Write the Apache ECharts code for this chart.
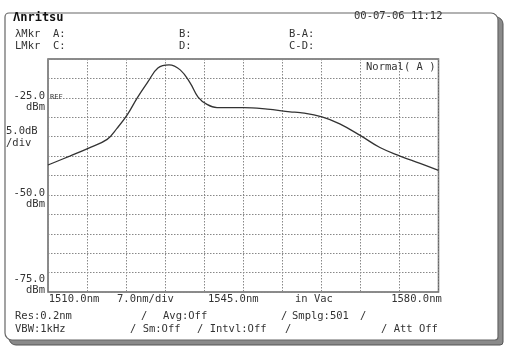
<!DOCTYPE html>
<html>
<head>
<meta charset="utf-8">
<script src="https://cdn.jsdelivr.net/npm/echarts@6/dist/echarts.min.js"></script>
<style>
html, body { margin: 0; padding: 0; background: #fff; }
#chart { width: 511px; height: 352px; }
</style>
</head>
<body>
<div id="chart"></div>
<script>
// spectrum trace (nm / dBm)
var wavelengths = [1510.0, 1513.9, 1517.2, 1520.6, 1522.4, 1524.2, 1526.0, 1527.9, 1529.7, 1531.7,
	1533.7, 1535.5, 1536.9, 1538.5, 1540.3, 1545.0, 1549.3, 1553.4, 1555.2, 1559.1,
	1562.3, 1566.1, 1569.5, 1573.1, 1576.7, 1580.0];
var levels = [-42.3, -40.0, -38.0, -35.7, -32.8, -29.4, -25.0, -20.9, -17.3, -16.5,
	-17.8, -21.2, -24.8, -26.7, -27.5, -27.5, -27.9, -28.6, -28.8, -29.9,
	-31.7, -34.8, -37.8, -40.0, -41.9, -43.7];

var xTickValues = [1510, 1545, 1580];
var xTickLabels = ['1510.0nm', '1545.0nm', '1580.0nm'];
var yTickValues = [-25, -50, -75];
var yTickLabels = ['-25.0', '-50.0', '-75.0'];

var FONT = '"DejaVu Sans Mono", monospace';
var TXT = '#333';

function txt(x, y, s, size, extra) {
	var o = {
		type: 'text',
		x: x,
		y: y,
		z: 100,
		style: {
			text: s,
			font: (size || 10.5) + 'px ' + FONT,
			fill: TXT,
			textAlign: 'left',
			textVerticalAlign: 'middle'
		}
	};
	if (extra) for (var k in extra) o.style[k] = extra[k];
	return o;
}

var myChart = echarts.init(document.getElementById('chart'), null, { renderer: 'canvas' });
var option = {
	backgroundColor: '#fff',
	animation: false,
	grid: {
		left: 48,
		right: 72.5,
		top: 59,
		bottom: 60,
		show: true,
		borderColor: '#666',
		borderWidth: 1.5,
		outerBoundsMode: 'none'
	},
	xAxis: {
		type: 'value',
		min: 1510,
		max: 1580,
		interval: 7,
		axisLine: { show: false },
		axisTick: { show: false },
		splitLine: { show: true, lineStyle: { color: '#888', type: [1.5, 1.5], width: 1 } },
		axisLabel: {
			showMinLabel: true,
			showMaxLabel: true,
			margin: 2,
			align: 'center',
			formatter: function(v) {
				var i = xTickValues.indexOf(Math.round(v));
				if (i < 0) return '';
				var tag = ['l', 'm', 'r'][i];
				return '{' + tag + '|' + xTickLabels[i] + '}';
			},
			rich: {
				l: { fontFamily: FONT, fontSize: 10.5, color: TXT, padding: [0, 0, 0, 52] },
				m: { fontFamily: FONT, fontSize: 10.5, color: TXT, padding: [0, 20, 0, 0] },
				r: { fontFamily: FONT, fontSize: 10.5, color: TXT, padding: [0, 44, 0, 0] }
			}
		}
	},
	yAxis: {
		type: 'value',
		min: -75,
		max: -15,
		interval: 5,
		axisLine: { show: false },
		axisTick: { show: false },
		splitLine: { show: true, lineStyle: { color: '#888', type: [1.5, 1.5], width: 1 } },
		axisLabel: {
			showMinLabel: true,
			showMaxLabel: true,
			margin: 3,
			align: 'right',
			verticalAlign: 'middle',
			formatter: function(v) {
				var i = yTickValues.indexOf(Math.round(v));
				if (i < 0) return '';
				if (i == 2) return '{v|' + yTickLabels[i] + '}\n{u|dBm}\n{s| }';
				return '{t| }\n{v|' + yTickLabels[i] + '}\n{u|dBm}';
			},
			rich: {
				v: { fontFamily: FONT, fontSize: 10.5, color: TXT, lineHeight: 11, align: 'right' },
				u: { fontFamily: FONT, fontSize: 10.5, color: TXT, lineHeight: 11, align: 'right' },
				t: { fontSize: 4, lineHeight: 8 },
				s: { fontSize: 4, lineHeight: 15 }
			}
		}
	},
	series: [{
		type: 'line',
		data: wavelengths.map(function(w, i) { return [w, levels[i]]; }),
		smooth: 0.4,
		showSymbol: false,
		symbol: 'none',
		lineStyle: { color: '#333', width: 1.3 },
		z: 5
	}],
	graphic: [
		// drop shadow and outer frame
		{
			type: 'rect',
			z: -20,
			shape: { x: 9, y: 17, width: 494, height: 328, r: [4, 7, 3, 7] },
			style: { fill: '#8a8a8a', stroke: '#555', lineWidth: 1 }
		},
		{
			type: 'rect',
			z: -10,
			shape: { x: 5, y: 13, width: 493, height: 327, r: [4, 7, 3, 7] },
			style: { fill: '#fff', stroke: '#666', lineWidth: 1.2 }
		},
		txt(13, 17.5, 'Λnritsu', 12, { font: 'bold 12px ' + FONT, fill: '#111' }),
		txt(354, 16.5, '00-07-06 11:12'),
		txt(15, 34, 'λMkr'),
		txt(53, 34, 'A:'),
		txt(179, 34, 'B:'),
		txt(289, 34, 'B-A:'),
		txt(15, 46, 'LMkr'),
		txt(53, 46, 'C:'),
		txt(179, 46, 'D:'),
		txt(289, 46, 'C-D:'),
		txt(50, 97.5, 'REF', 7),
		txt(6, 131, '5.0dB'),
		txt(6, 143, '/div'),
		txt(366, 67, 'Normal( A )'),
		txt(117, 299, '7.0nm/div'),
		txt(295, 299, 'in Vac'),
		txt(15, 316.5, 'Res:0.2nm'),
		txt(141, 316.5, '/'),
		txt(163, 316.5, 'Avg:Off'),
		txt(281, 316.5, '/'),
		txt(292, 316.5, 'Smplg:501'),
		txt(360, 316.5, '/'),
		txt(15, 329.5, 'VBW:1kHz'),
		txt(130, 329.5, '/ Sm:Off'),
		txt(197, 329.5, '/ Intvl:Off'),
		txt(285, 329.5, '/'),
		txt(381, 329.5, '/ Att Off')
	]
};
myChart.setOption(option);
</script>
</body>
</html>
